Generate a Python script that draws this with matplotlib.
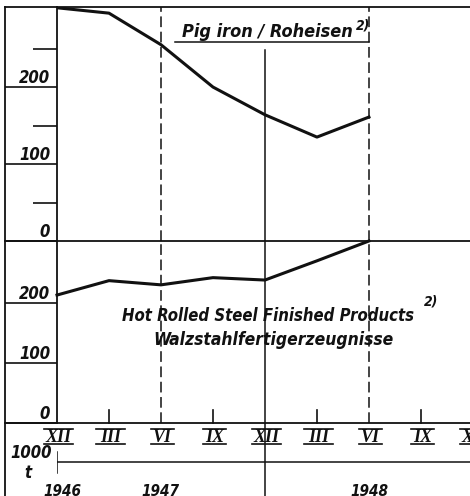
import matplotlib
matplotlib.use('Agg')
import matplotlib.pyplot as plt
from matplotlib.lines import Line2D
import matplotlib.transforms as mtransforms

# months counted from XII 1946, quarterly points
months = [0, 3, 6, 9, 12, 15, 18]
pig_iron = [303, 296, 255, 200, 164, 135, 161]        # 1000 t
hot_rolled = [213, 237, 230, 242, 238, 270, 303]      # 1000 t
quarter_ticks = [0, 3, 6, 9, 12, 15, 18, 21, 24]
quarter_labels = ['XII', 'III', 'VI', 'IX', 'XII', 'III', 'VI', 'IX', 'XII']
years = ['1946', '1947', '1948']
year_pos = [0.3, 5.95, 18.0]

plt.rcParams['font.family'] = ['DejaVu Sans']
plt.rcParams['font.style'] = 'italic'
plt.rcParams['font.weight'] = 'bold'
plt.rcParams['font.stretch'] = 'condensed'

W, H = 470, 496
fig = plt.figure(figsize=(W / 100, H / 100), dpi=100)

def fpos(x0, y0, x1, y1):
    return [x0 / W, 1 - y1 / H, (x1 - x0) / W, (y1 - y0) / H]

ink = '#111111'
xmax = (W - 57) / 17.33

ax1 = fig.add_axes(fpos(57, 7, W, 241))
ax2 = fig.add_axes(fpos(57, 241, W, 423))
ax3 = fig.add_axes(fpos(57, 423, W, H))

for ax in (ax1, ax2, ax3):
    ax.set_xlim(0, xmax)
    ax.set_xticks([])
    ax.patch.set_visible(False)
    for s in ax.spines.values():
        s.set_visible(False)
        s.set_color(ink)
        s.set_linewidth(1.3)
ax1.set_ylim(0, 304)
ax2.set_ylim(0, 303)
ax3.set_ylim(0, 1)
ax3.set_yticks([])

for ax in (ax1, ax2):
    ax.spines['left'].set_visible(True)
    ax.spines['bottom'].set_visible(True)
    ax.set_yticks([0, 100, 200])
    ax.set_yticklabels([])
    ax.tick_params(axis='y', which='major', direction='out', length=37.4, width=1.2, color=ink)
ax1.spines['top'].set_visible(True)
ax1.set_yticks([50, 150, 250], minor=True)
ax1.tick_params(axis='y', which='minor', direction='out', length=17.3, width=1.2, color=ink)

# y labels sitting on the tick lines
for ax, scale in ((ax1, 0.77), (ax2, 0.60)):
    for v in (0, 100, 200):
        ax.text(-0.4, v + 4 / scale, str(v), ha='right', va='baseline',
                fontsize=12, color=ink, clip_on=False)

# data
ax1.plot(months, pig_iron, color=ink, lw=2.2, solid_joinstyle='round', clip_on=True)
ax2.plot(months, hot_rolled, color=ink, lw=2.2, solid_joinstyle='round', clip_on=False)

# reference verticals
for ax in (ax1, ax2):
    ax.axvline(6, color=ink, lw=1.1, ls=(0, (7, 3)))
    ax.axvline(18, color=ink, lw=1.1, ls=(0, (7, 3)))
ax1.axvline(12, ymax=0.816, color=ink, lw=1.1)
ax2.axvline(12, color=ink, lw=1.1)
ax3.axvline(12, color=ink, lw=1.1)

# quarter ticks and roman labels
tr2 = mtransforms.blended_transform_factory(ax2.transData, ax2.transAxes)
for m, lab in zip(quarter_ticks, quarter_labels):
    if m not in (0, 6, 12, 18):
        ax2.plot([m, m], [0, 13 / 182], color=ink, lw=1.2, transform=tr2, clip_on=False)
    ax2.text(m + 0.1, -0.077, lab, ha='center', va='center', fontsize=13,
             family='Liberation Serif', stretch='normal', transform=tr2,
             clip_on=False, color=ink)
    half = 0.85 if len(lab) == 3 else 0.65
    for yb in (-0.033, -0.114):
        ax2.plot([m + 0.1 - half, m + 0.1 + half], [yb, yb], color=ink, lw=1.2,
                 transform=tr2, clip_on=False)

# time band
ax3.plot([0, xmax], [0.466, 0.466], color=ink, lw=1.1)
ax3.plot([0, 0], [0.315, 0.60], color=ink, lw=1.1)
for y, p in zip(years, year_pos):
    ax3.text(p, 0.06, y, ha='center', va='center', fontsize=11, color=ink)

# frame pieces on the left
fig.add_artist(Line2D([5 / W, 5 / W], [1 - 7 / H, 0], color=ink, lw=1.3))
for py in (7, 241, 423):
    fig.add_artist(Line2D([5 / W, 57 / W], [1 - py / H, 1 - py / H], color=ink, lw=1.3))
fig.text(52 / W, 1 - 453 / H, '1000', ha='right', va='center', fontsize=12, color=ink)
fig.text(28 / W, 1 - 473 / H, 't', ha='center', va='center', fontsize=12, color=ink)

# titles
tr1 = mtransforms.blended_transform_factory(ax1.transData, ax1.transAxes)
ax1.text(17.05, (241 - 37) / 234, 'Pig iron / Roheisen', ha='right', va='baseline',
         fontsize=13, transform=tr1, color=ink)
ax1.text(17.25, (241 - 30) / 234, '2)', ha='left', va='baseline', fontsize=10,
         transform=tr1, color=ink)
ax1.plot([6.8, 18.0], [(241 - 42) / 234] * 2, color=ink, lw=1.1, transform=tr1)

ax2.text(12.2, 0.59, 'Hot Rolled Steel Finished Products', ha='center', va='center',
         fontsize=12, transform=tr2, color=ink)
ax2.text(21.2, 0.67, '2)', ha='left', va='center', fontsize=10, transform=tr2, color=ink)
ax2.text(12.5, 0.455, 'Walzstahlfertigerzeugnisse', ha='center', va='center',
         fontsize=12.5, transform=tr2, color=ink)

fig.savefig('out.png', dpi=100, facecolor='white')
